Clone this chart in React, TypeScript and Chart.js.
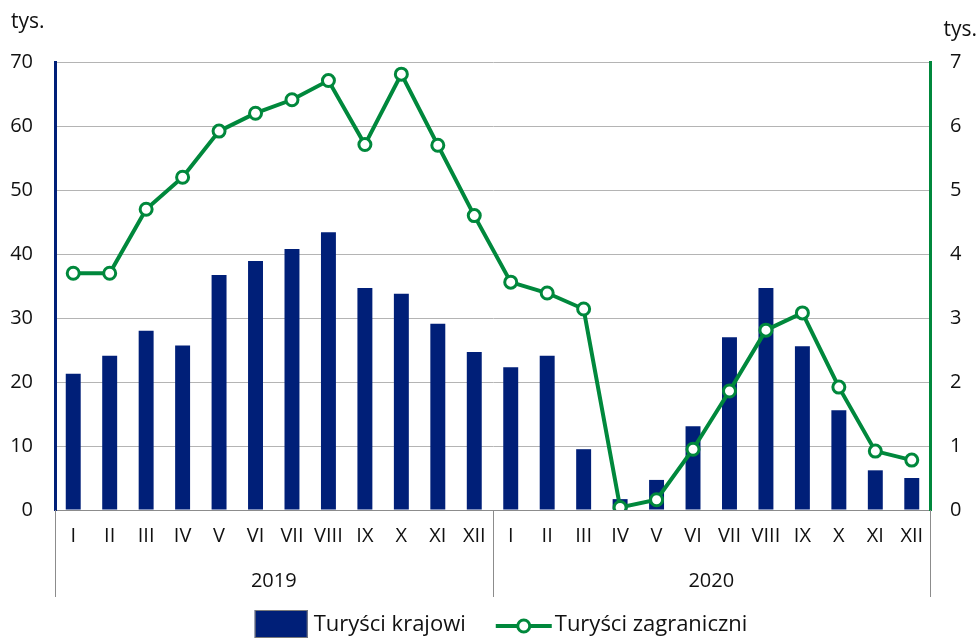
import React, { useEffect, useRef } from "react";
import { Chart, registerables } from "chart.js";

Chart.register(...registerables);

const months = ["I", "II", "III", "IV", "V", "VI", "VII", "VIII", "IX", "X", "XI", "XII"];
const years = ["2019", "2020"];
const categories = [...months, ...months];
const unitLabel = "tys.";

const domesticLabel = "Turyści krajowi";
const foreignLabel = "Turyści zagraniczni";

const domestic = [21.3, 24.1, 28.0, 25.7, 36.7, 38.9, 40.8, 43.4, 34.7, 33.8, 29.1, 24.7,
  22.3, 24.1, 9.5, 1.7, 4.7, 13.1, 27.0, 34.7, 25.6, 15.6, 6.2, 5.0];
const foreign = [3.7, 3.7, 4.7, 5.2, 5.92, 6.2, 6.41, 6.71, 5.71, 6.81, 5.7, 4.6,
  3.56, 3.39, 3.14, 0.04, 0.16, 0.95, 1.86, 2.81, 3.08, 1.92, 0.92, 0.78];

const NAVY = "#001f78";
const GREEN = "#00883c";
const FONT = "'Open Sans', sans-serif";

Chart.defaults.font.family = FONT;

const extrasPlugin = {
  id: "extras",
  afterDraw(chart: any) {
    const { ctx, chartArea } = chart;
    const n = categories.length;
    const perYear = months.length;
    const step = (chartArea.right - chartArea.left) / n;
    ctx.save();
    // separators
    ctx.strokeStyle = "#8c8c8c";
    ctx.lineWidth = 1;
    for (let i = 0; i <= years.length; i++) {
      const x = Math.round(chartArea.left + i * perYear * step) + 0.5;
      ctx.beginPath();
      ctx.moveTo(x, chartArea.bottom);
      ctx.lineTo(x, chartArea.bottom + 87);
      ctx.stroke();
    }
    // year labels
    ctx.fillStyle = "#111";
    ctx.font = `20px ${FONT}`;
    ctx.textAlign = "center";
    ctx.textBaseline = "middle";
    years.forEach((y, i) => {
      const x = chartArea.left + (i * perYear + perYear / 2) * step;
      ctx.fillText(y, x, chartArea.bottom + 71);
    });
    // axis unit labels
    ctx.font = `21px ${FONT}`;
    ctx.textAlign = "left";
    ctx.fillText(unitLabel, 11, 22);
    ctx.textAlign = "right";
    ctx.fillText(unitLabel, 977, 30);

    // legend
    const ly = 624;
    ctx.font = `22px ${FONT}`;
    ctx.textAlign = "left";
    const w1 = ctx.measureText(domesticLabel).width;
    const w2 = ctx.measureText(foreignLabel).width;
    const total = 53 + 6 + w1 + 30 + 56 + 3 + w2;
    let x = 501 - total / 2;
    ctx.fillStyle = NAVY;
    ctx.fillRect(x, ly - 14, 53, 28);
    ctx.strokeStyle = "#7a7a7a";
    ctx.lineWidth = 1;
    ctx.strokeRect(x + 0.5, ly - 13.5, 52, 27);
    x += 53 + 6;
    ctx.fillStyle = "#111";
    ctx.fillText(domesticLabel, x, ly + 1);
    x += w1 + 30;
    ctx.strokeStyle = GREEN;
    ctx.lineWidth = 4;
    ctx.beginPath();
    ctx.moveTo(x, ly + 2);
    ctx.lineTo(x + 56, ly + 2);
    ctx.stroke();
    ctx.beginPath();
    ctx.arc(x + 28, ly + 2, 6, 0, Math.PI * 2);
    ctx.fillStyle = "#fff";
    ctx.fill();
    ctx.lineWidth = 3;
    ctx.stroke();
    x += 56 + 3;
    ctx.fillStyle = "#111";
    ctx.fillText(foreignLabel, x, ly + 1);
    ctx.restore();
  },
};

export default function App() {
  const ref = useRef<HTMLCanvasElement | null>(null);
  useEffect(() => {
    if (!ref.current) return;
    const chart = new Chart(ref.current, {
      type: "bar",
      data: {
        labels: categories,
        datasets: [
          {
            type: "line",
            label: foreignLabel,
            data: foreign,
            yAxisID: "y1",
            borderColor: GREEN,
            borderWidth: 4,
            pointRadius: 6,
            pointBorderWidth: 3,
            pointBackgroundColor: "#fff",
            pointBorderColor: GREEN,
            tension: 0,
            order: 0,
          } as any,
          {
            type: "bar",
            label: domesticLabel,
            data: domestic,
            yAxisID: "y",
            backgroundColor: NAVY,
            categoryPercentage: 1,
            barPercentage: 0.41,
            order: 1,
          },
        ],
      },
      options: {
        animation: false,
        responsive: true,
        maintainAspectRatio: false,
        layout: { padding: { top: 62, left: 0, right: 0, bottom: 0 } },
        plugins: { legend: { display: false }, tooltip: { enabled: false } },
        scales: {
          x: {
            grid: { display: false, drawTicks: false },
            border: { color: "#8c8c8c", width: 1 },
            ticks: { color: "#111", font: { family: FONT, size: 20 }, padding: 14, maxRotation: 0, autoSkip: false },
            afterFit: (s: any) => { s.height = 129; },
          },
          y: {
            position: "left",
            min: 0,
            max: 70,
            ticks: { stepSize: 10, color: "#111", font: { family: FONT, size: 20 }, padding: 22 },
            grid: { color: "#b4b4b4", lineWidth: 1, drawTicks: false },
            border: { color: NAVY, width: 3 },
            afterFit: (s: any) => { s.width = 55; },
          },
          y1: {
            position: "right",
            min: 0,
            max: 7,
            ticks: { stepSize: 1, color: "#111", font: { family: FONT, size: 20 }, padding: 20 },
            grid: { display: false, drawTicks: false },
            border: { color: GREEN, width: 3 },
            afterFit: (s: any) => { s.width = 48; },
          },
        },
      },
      plugins: [extrasPlugin],
    });
    return () => chart.destroy();
  }, []);
  return (
    <div style={{ position: "absolute", left: 0, top: 0, width: 978, height: 639 }}>
      <canvas ref={ref} />
    </div>
  );
}
